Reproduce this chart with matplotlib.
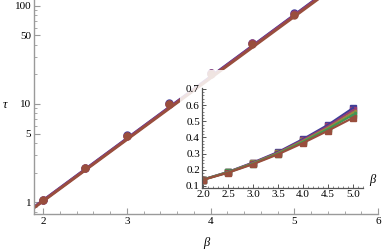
import matplotlib
matplotlib.use("Agg")
import matplotlib.pyplot as plt
import matplotlib.colors as mcolors
from matplotlib.patches import Rectangle
from matplotlib.ticker import MultipleLocator, FixedLocator, NullFormatter

plt.rcParams['font.family'] = ['Liberation Serif', 'DejaVu Serif']

# ---- data ----
beta = [2.0, 2.5, 3.0, 3.5, 4.0, 4.5, 5.0]
# main plot: several nearly identical series (tau vs beta)
hues = [0.67, 0.906, 0.0307]
tau_main = [
    [1.06, 2.25, 4.8, 10.2, 20.8, 42.0, 84.0],
    [1.05, 2.23, 4.75, 10.1, 20.6, 41.5, 83.0],
    [1.04, 2.2, 4.7, 10.0, 20.4, 41.0, 81.0],
]
fit_beta = [1.8, 6.0]
fit_tau = [
    [0.78, 345.0],
    [0.775, 340.0],
    [0.765, 330.0],
]
# inset: linear scale, several series
inset_hues = [0.67, 0.906, 0.142, 0.378, 0.0307]
tau_inset = [
    [0.140, 0.187, 0.245, 0.310, 0.390, 0.478, 0.582],
    [0.140, 0.186, 0.243, 0.306, 0.384, 0.469, 0.568],
    [0.139, 0.185, 0.240, 0.303, 0.378, 0.460, 0.554],
    [0.139, 0.184, 0.238, 0.300, 0.373, 0.452, 0.540],
    [0.138, 0.182, 0.235, 0.296, 0.366, 0.442, 0.522],
]
main_xticks = [2, 3, 4, 5, 6]
main_yticks = [1, 5, 10, 50, 100]
inset_xticks = [2.0, 2.5, 3.0, 3.5, 4.0, 4.5, 5.0]
inset_yticks = [0.1, 0.2, 0.3, 0.4, 0.5, 0.6, 0.7]


def hue_color(h):
    return mcolors.hsv_to_rgb((h % 1.0, 0.6, 0.6))

W, H = 382, 252
fig = plt.figure(figsize=(W / 100, H / 100), dpi=100)
ax = fig.add_axes([34 / W, (H - 214) / H, (378 - 34) / W, 214 / H])
ax.set_yscale('log')
ax.set_xlim(1.89, 6.0)
ax.set_ylim(0.755, 115)

for h, yv, fv in zip(hues, tau_main, fit_tau):
    c = hue_color(h)
    ax.plot(fit_beta, fv, color=c, lw=2.0, solid_capstyle='butt')
    ax.plot(beta, yv, 'o', color=c, ms=5.0, mec=c)

axis_gray = '#9a9a9a'
for s in ['top', 'right']:
    ax.spines[s].set_visible(False)
for s in ['left', 'bottom']:
    ax.spines[s].set_color(axis_gray)
    ax.spines[s].set_linewidth(1.0)
ax.set_xticks(main_xticks)
ax.set_xticklabels([str(v) for v in main_xticks])
ax.xaxis.set_minor_locator(MultipleLocator(0.2))
ax.set_yticks(main_yticks)
ax.set_yticklabels([str(v) for v in main_yticks])
minor_y = [m * d for d in [0.1, 1, 10, 100] for m in range(2, 10) if m * d not in (5, 50)]
ax.yaxis.set_minor_locator(FixedLocator(minor_y))
ax.yaxis.set_minor_formatter(NullFormatter())
ax.tick_params(which='major', direction='in', length=4, width=0.8, color=axis_gray,
               labelsize=8, pad=2, labelcolor='black')
ax.tick_params(which='minor', direction='in', length=2, width=0.6, color=axis_gray)
ax.text(-0.085, 0.51, 'τ', transform=ax.transAxes, fontsize=9, style='italic',
        ha='center', va='center')
ax.text(0.5, -0.135, 'β', transform=ax.transAxes, fontsize=9, style='italic',
        ha='center', va='center')

# semi-transparent white background behind inset (incl. labels)
fig.patches.append(Rectangle((180 / W, (H - 203) / H), (W - 180) / W, (203 - 70) / H,
                             transform=fig.transFigure, facecolor='white',
                             alpha=0.85, edgecolor='none', zorder=1))

ins = fig.add_axes([202 / W, (H - 188) / H, (363 - 202) / W, 100 / H], zorder=3)
ins.patch.set_alpha(0.0)
ins.set_xlim(1.98, 5.2)
ins.set_ylim(0.0876, 0.706)
for h, yv in zip(inset_hues, tau_inset):
    c = hue_color(h)
    ins.plot(beta, yv, 's', color=c, ms=4.5, mec=c)
for h, yv in zip(inset_hues, tau_inset):
    c = hue_color(h)
    ins.plot(beta, yv, '-', color=c, lw=1.6)
for s in ['top', 'right']:
    ins.spines[s].set_visible(False)
for s in ['left', 'bottom']:
    ins.spines[s].set_color('#555555')
    ins.spines[s].set_linewidth(0.9)
ins.set_xticks(inset_xticks)
ins.set_xticklabels(['%.1f' % v for v in inset_xticks])
ins.set_yticks(inset_yticks)
ins.set_yticklabels(['%.1f' % v for v in inset_yticks])
ins.xaxis.set_minor_locator(MultipleLocator(0.1))
ins.yaxis.set_minor_locator(MultipleLocator(0.02))
ins.tick_params(which='major', direction='in', length=3, width=0.7, color='#555555',
                labelsize=8, pad=1.5)
ins.tick_params(which='minor', direction='in', length=1.5, width=0.5, color='#555555')
ins.text(1.04, 0.08, 'β', transform=ins.transAxes, fontsize=9, style='italic',
         ha='left', va='center')

fig.savefig('out.png', dpi=100)
